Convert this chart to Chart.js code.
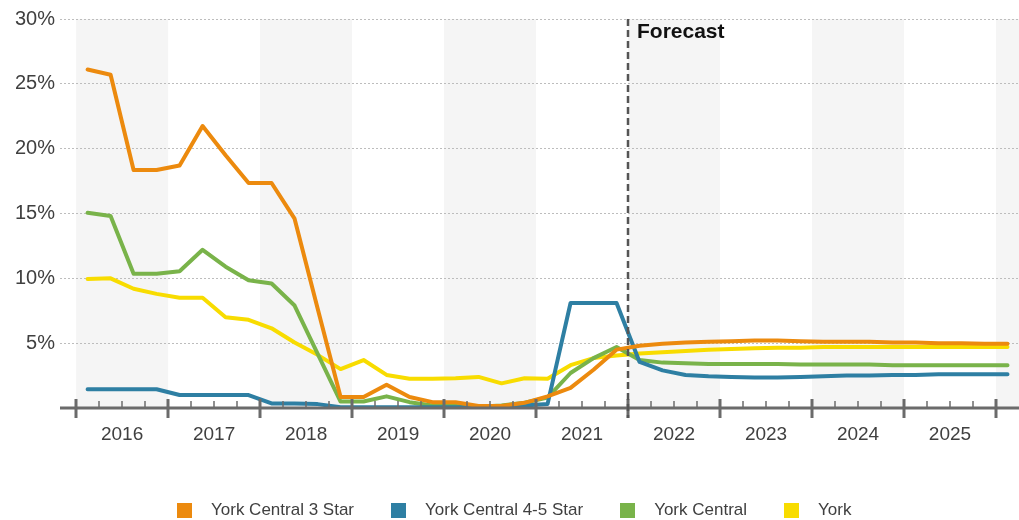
<!DOCTYPE html>
<html>
<head>
<meta charset="utf-8">
<script src="https://cdn.jsdelivr.net/npm/chart.js@4.4.1/dist/chart.umd.min.js"></script>
<style>
  body { margin: 0; background: #fff; }
  #wrap { position: relative; width: 1019px; height: 520px; }
  #legend {
    position: absolute; top: 500px; left: 177px;
    display: flex; gap: 37px;
    font-family: 'Liberation Sans', Arial, sans-serif; font-size: 17px; color: #404040;
  }
  #legend .item { display: flex; align-items: center; }
  #legend .box { width: 15px; height: 15px; margin-right: 19px; }
</style>
</head>
<body>
<div id="wrap">
  <canvas id="myChart" width="1019" height="520"></canvas>
  <div id="legend"></div>
</div>
<script>
// years on the axis
let years = ['2016', '2017', '2018', '2019', '2020', '2021', '2022', '2023', '2024', '2025'];
let forecastYear = '2022';

// quarterly values, 2016 Q1 onwards (%)
let yc3Star = [
  26.1, 25.7, 18.35, 18.35, 18.7, 21.75, 19.5, 17.35, 17.35, 14.6,
  7.7, 0.85, 0.85, 1.8, 0.85, 0.45, 0.45, 0.15, 0.15, 0.4,
  0.9, 1.55, 2.95, 4.5, 4.8, 4.95, 5.05, 5.1, 5.15, 5.2,
  5.2, 5.15, 5.1, 5.1, 5.1, 5.05, 5.05, 5.0, 5.0, 4.95, 4.95
];
let yc45Star = [
  1.45, 1.45, 1.45, 1.45, 1.0, 1.0, 1.0, 1.0, 0.35, 0.35,
  0.3, 0.05, 0.05, 0.05, 0.05, 0.05, 0.05, 0.05, 0.1, 0.2,
  0.3, 8.1, 8.1, 8.1, 3.55, 2.9, 2.55, 2.45, 2.4, 2.35,
  2.35, 2.4, 2.45, 2.5, 2.5, 2.55, 2.55, 2.6, 2.6, 2.6, 2.6
];
let yorkCentral = [
  15.05, 14.8, 10.35, 10.35, 10.55, 12.2, 10.9, 9.85, 9.6, 7.9,
  4.2, 0.5, 0.5, 0.9, 0.45, 0.2, 0.15, 0.1, 0.2, 0.4,
  0.8, 2.7, 3.85, 4.7, 3.7, 3.5, 3.45, 3.4, 3.4, 3.4,
  3.4, 3.35, 3.35, 3.35, 3.35, 3.3, 3.3, 3.3, 3.3, 3.3, 3.3
];
let york = [
  9.95, 10.0, 9.2, 8.8, 8.5, 8.5, 7.0, 6.8, 6.15, 5.05,
  4.1, 3.0, 3.7, 2.55, 2.25, 2.25, 2.3, 2.4, 1.9, 2.3,
  2.25, 3.3, 3.85, 4.05, 4.2, 4.3, 4.4, 4.5, 4.55, 4.6,
  4.65, 4.65, 4.7, 4.7, 4.7, 4.7, 4.7, 4.7, 4.7, 4.7, 4.7
];

let seriesNames = ['York Central 3 Star', 'York Central 4-5 Star', 'York Central', 'York'];
let seriesColors = ['#ec8a0e', '#2e7fa3', '#79b34a', '#f8dc00'];
let seriesData = [yc3Star, yc45Star, yorkCentral, york];

const font = "'Liberation Sans', Arial, sans-serif";

// x is the quarter index; a year spans index -0.5 .. 3.5
function yearStart(i) {
  return i * 4 - 0.5;
}

function toPoints(arr) {
  return arr.map((v, i) => ({ x: i, y: v }));
}

const bands = {
  id: 'bands',
  beforeDraw(chart) {
    const { ctx, chartArea: a, scales: { x } } = chart;
    ctx.save();
    ctx.fillStyle = '#f5f5f5';
    for (let i = 0; i <= years.length; i += 2) {
      let x1 = Math.max(x.getPixelForValue(yearStart(i)), a.left);
      let x2 = Math.min(x.getPixelForValue(yearStart(i + 1)), a.right);
      if (x2 > x1) ctx.fillRect(x1, a.top, x2 - x1, a.bottom - a.top);
    }
    ctx.restore();
  }
};

const axisMarks = {
  id: 'axisMarks',
  afterDatasetsDraw(chart) {
    const { ctx, chartArea: a, scales: { x, y } } = chart;
    const y0 = y.getPixelForValue(0);
    ctx.save();
    ctx.strokeStyle = '#6b6b6b';
    // minor ticks (quarters)
    ctx.lineWidth = 1.5;
    for (let q = 0; q <= years.length * 4; q++) {
      if (q % 4 === 0) continue;
      let px = Math.round(x.getPixelForValue(q - 0.5));
      ctx.beginPath();
      ctx.moveTo(px, y0 - 7);
      ctx.lineTo(px, y0);
      ctx.stroke();
    }
    // axis line
    ctx.lineWidth = 3;
    ctx.beginPath();
    ctx.moveTo(a.left, y0);
    ctx.lineTo(a.right, y0);
    ctx.stroke();
    // major ticks (years)
    for (let i = 0; i <= years.length; i++) {
      let px = Math.round(x.getPixelForValue(yearStart(i)));
      ctx.beginPath();
      ctx.moveTo(px, y0 - 9);
      ctx.lineTo(px, y0 + 10);
      ctx.stroke();
    }
    // forecast divider
    let fx = Math.round(x.getPixelForValue(yearStart(years.indexOf(forecastYear))));
    ctx.strokeStyle = '#555';
    ctx.lineWidth = 2.5;
    ctx.setLineDash([7, 4]);
    ctx.beginPath();
    ctx.moveTo(fx, a.top);
    ctx.lineTo(fx, y0 + 10);
    ctx.stroke();
    ctx.setLineDash([]);
    ctx.fillStyle = '#111';
    ctx.font = 'bold 21px ' + font;
    ctx.textBaseline = 'middle';
    ctx.textAlign = 'left';
    ctx.fillText('Forecast', fx + 9, 32);
    ctx.restore();
  }
};

let ctx = document.getElementById('myChart').getContext('2d');
let chart = new Chart(ctx, {
  type: 'line',
  data: {
    datasets: seriesNames.map((name, k) => ({
      label: name,
      data: toPoints(seriesData[k]),
      borderColor: seriesColors[k],
      backgroundColor: seriesColors[k],
      borderWidth: 4,
      pointRadius: 0,
      tension: 0,
      borderCapStyle: 'round',
      borderJoinStyle: 'round',
      fill: false
    }))
  },
  options: {
    responsive: false,
    animation: false,
    devicePixelRatio: 1,
    layout: { padding: { top: 19, right: 0, left: 0, bottom: 42 } },
    plugins: {
      legend: { display: false },
      tooltip: { enabled: false }
    },
    scales: {
      x: {
        type: 'linear',
        min: -1.2,
        max: 40.5,
        grid: { display: false },
        border: { display: false },
        afterBuildTicks(scale) {
          scale.ticks = years.map((yr, i) => ({ value: i * 4 + 1.5 }));
        },
        afterFit(scale) { scale.height = 70; },
        ticks: {
          autoSkip: false,
          maxRotation: 0,
          padding: 7,
          color: '#404040',
          font: { family: font, size: 19 },
          callback: (v, i) => years[i]
        }
      },
      y: {
        min: 0,
        max: 30,
        afterFit(scale) { scale.width = 60; },
        grid: { color: '#bdbdbd', lineWidth: 1, drawTicks: false },
        border: { display: false, dash: [2, 2] },
        ticks: {
          stepSize: 5,
          padding: 5,
          color: '#404040',
          font: { family: font, size: 20 },
          callback: v => (v === 0 ? '' : v + '%')
        }
      }
    }
  },
  plugins: [bands, axisMarks]
});

// legend
const legendEl = document.getElementById('legend');
seriesNames.forEach((name, k) => {
  const item = document.createElement('div');
  item.className = 'item';
  const box = document.createElement('span');
  box.className = 'box';
  box.style.background = seriesColors[k];
  const label = document.createElement('span');
  label.textContent = name;
  item.appendChild(box);
  item.appendChild(label);
  legendEl.appendChild(item);
});
</script>
</body>
</html>
